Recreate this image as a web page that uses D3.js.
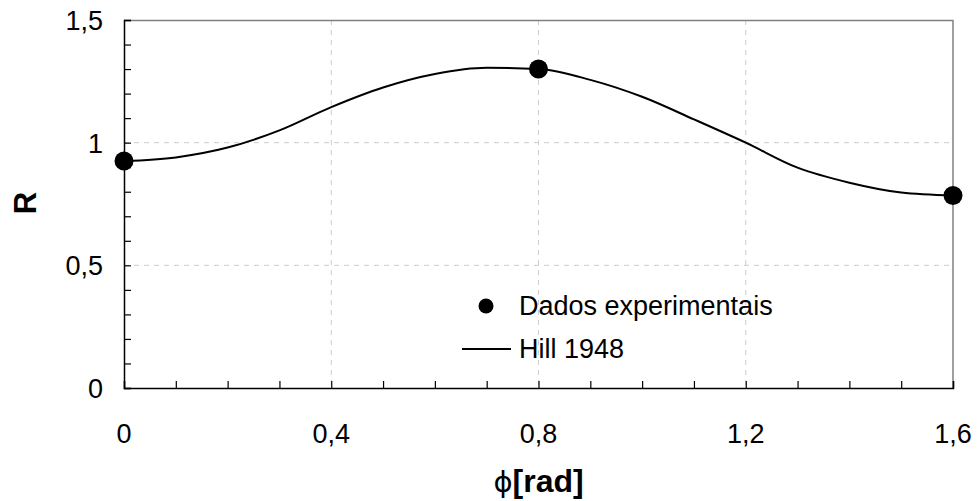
<!DOCTYPE html>
<html>
<head>
<meta charset="utf-8">
<script src="https://cdn.jsdelivr.net/npm/d3@7"></script>
<style>
  body { margin: 0; background: #fff; }
  text { font-family: "Liberation Sans", Arial, sans-serif; fill: #000; }
</style>
</head>
<body>
<div id="chart-area"></div>
<script>
// data
const phiExp = [0, 0.8, 1.6]
const rExp = [0.925, 1.30, 0.785]

const phiHill = [0, 0.1, 0.2, 0.3, 0.4, 0.5, 0.6, 0.7, 0.8, 0.9, 1.0, 1.1, 1.2, 1.3, 1.4, 1.5, 1.6]
const rHill = [0.925, 0.94, 0.98, 1.05, 1.145, 1.225, 1.28, 1.305, 1.30, 1.256, 1.187, 1.095, 1.0, 0.898, 0.837, 0.797, 0.785]

const xTicks = [0, 0.4, 0.8, 1.2, 1.6]
const yTicks = [0, 0.5, 1, 1.5]
const seriesNames = ['Dados experimentais', 'Hill 1948']

const W = 977, H = 501
const margin = { left: 124, right: 24, top: 20, bottom: 113 }
const width = W - margin.left - margin.right
const height = H - margin.top - margin.bottom

const fmt = d => String(d).replace('.', ',')

const svg = d3.select('#chart-area').append('svg')
    .attr('width', W)
    .attr('height', H)

const g = svg.append('g')
    .attr('transform', `translate(${margin.left}, ${margin.top})`)

const xScale = d3.scaleLinear().domain([0, 1.6]).range([0, width])
const yScale = d3.scaleLinear().domain([0, 1.5]).range([height, 0])

// grid
g.selectAll('.hgrid')
    .data(yTicks.filter(d => d > 0 && d < 1.5))
    .enter().append('line')
    .attr('x1', 0).attr('x2', width)
    .attr('y1', d => yScale(d)).attr('y2', d => yScale(d))
    .attr('stroke', '#cccccc').attr('stroke-dasharray', '5,5')

g.selectAll('.vgrid')
    .data(xTicks.filter(d => d > 0 && d < 1.6))
    .enter().append('line')
    .attr('x1', d => xScale(d)).attr('x2', d => xScale(d))
    .attr('y1', 0).attr('y2', height)
    .attr('stroke', '#cccccc').attr('stroke-dasharray', '5,5')

// top/right frame in grey
g.append('path')
    .attr('d', `M0,0.5H${width}V${height}`)
    .attr('fill', 'none').attr('stroke', '#808080').attr('stroke-width', 1.5)

// axes with inward minor ticks
const xAxisGroup = g.append('g')
    .attr('transform', `translate(0, ${height})`)
    .call(d3.axisTop(xScale).ticks(16).tickSize(7).tickFormat(''))
const yAxisGroup = g.append('g')
    .call(d3.axisRight(yScale).ticks(15).tickSize(7).tickFormat(''))

for (const ax of [xAxisGroup, yAxisGroup]) {
    ax.select('.domain').attr('stroke', '#000').attr('stroke-width', 1.5)
    ax.selectAll('.tick line').attr('stroke', '#000').attr('stroke-width', 1.2)
}

// tick labels
g.selectAll('.xlab')
    .data(xTicks)
    .enter().append('text')
    .attr('x', d => xScale(d))
    .attr('y', height + 55)
    .attr('text-anchor', 'middle')
    .attr('font-size', '27px')
    .text(fmt)

g.selectAll('.ylab')
    .data(yTicks)
    .enter().append('text')
    .attr('x', -21)
    .attr('y', d => yScale(d) + 10)
    .attr('text-anchor', 'end')
    .attr('font-size', '27px')
    .text(fmt)

// axis titles
const xLabel = g.append('text')
    .attr('x', xScale(0.8))
    .attr('y', height + 104)
    .attr('text-anchor', 'middle')
    .attr('font-size', '32px')
xLabel.append('tspan').attr('font-family', 'DejaVu Sans').attr('font-size', '29px').text('\u03D5')
xLabel.append('tspan').attr('font-weight', 'bold').text('[rad]')

g.append('text')
    .attr('transform', `translate(${36 - margin.left}, ${203 - margin.top}) rotate(-90)`)
    .attr('text-anchor', 'middle')
    .attr('font-size', '31px')
    .attr('font-weight', 'bold')
    .text('R')

// Hill curve
const line = d3.line()
    .x((d, i) => xScale(phiHill[i]))
    .y(d => yScale(d))
    .curve(d3.curveMonotoneX)

g.append('path')
    .datum(rHill)
    .attr('d', line)
    .attr('fill', 'none')
    .attr('stroke', '#000')
    .attr('stroke-width', 2)

// experimental points
g.selectAll('circle.exp')
    .data(rExp)
    .enter().append('circle')
    .attr('class', 'exp')
    .attr('cx', (d, i) => xScale(phiExp[i]))
    .attr('cy', d => yScale(d))
    .attr('r', 9.5)
    .attr('fill', '#000')

// legend
const legend = g.append('g')
    .attr('transform', `translate(${486 - margin.left}, ${306 - margin.top})`)
legend.append('circle').attr('cx', 0).attr('cy', 0).attr('r', 7.5).attr('fill', '#000')
legend.append('text').attr('x', 33).attr('y', 9).attr('font-size', '27px').text(seriesNames[0])
legend.append('line')
    .attr('x1', -24).attr('x2', 25).attr('y1', 43).attr('y2', 43)
    .attr('stroke', '#000').attr('stroke-width', 2)
legend.append('text').attr('x', 33).attr('y', 52).attr('font-size', '27px').text(seriesNames[1])
</script>
</body>
</html>
